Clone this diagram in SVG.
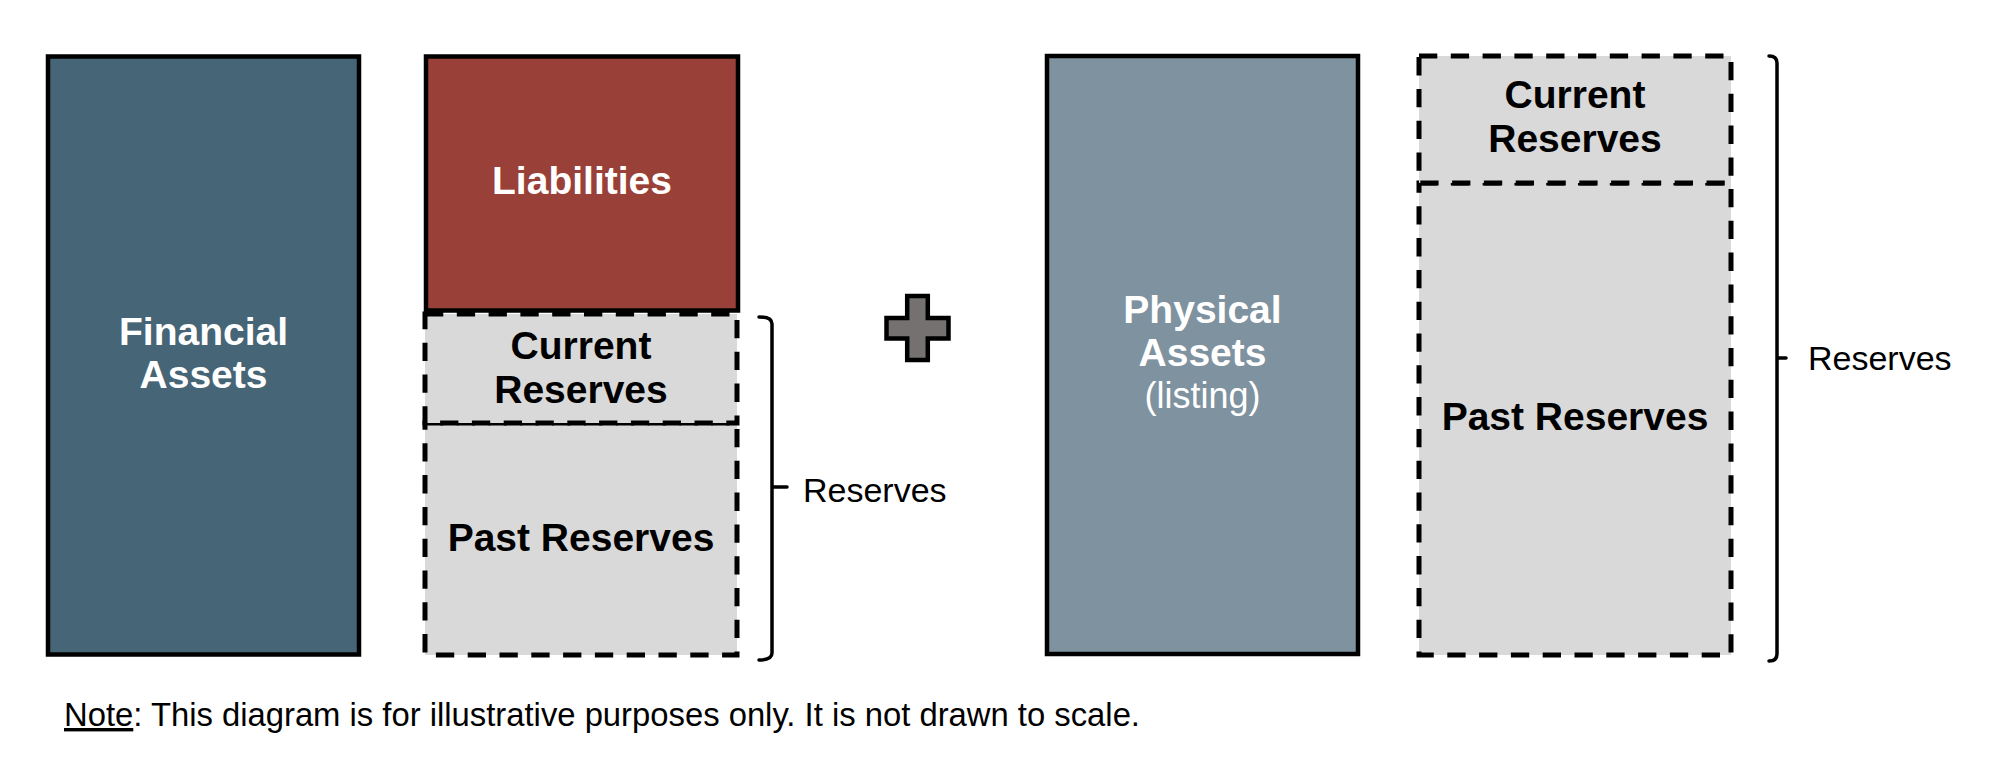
<svg xmlns="http://www.w3.org/2000/svg" width="2002" height="766" viewBox="0 0 2002 766">
  <style>
    .solid { stroke: #000; stroke-width: 4.5; }
    .dashed { fill: #d9d9d9; stroke: #000; stroke-width: 5; stroke-dasharray: 18.3 13.5; }
    .bold { font-family: "Liberation Sans", Arial, sans-serif; font-weight: bold; font-size: 39px; text-anchor: middle; }
    .white { fill: #ffffff; }
    .black { fill: #000000; }
    .reg { font-family: "Liberation Sans", Arial, sans-serif; font-size: 34px; fill: #000; }
    .brace { fill: none; stroke: #000; stroke-width: 3.5; stroke-linejoin: round; stroke-linecap: round; }
  </style>
  <rect width="2002" height="766" fill="#ffffff"/>

  <g id="financial-assets">
    <rect class="solid" x="48" y="56.5" width="311" height="598" fill="#466576"/>
    <text class="bold white" x="203.5" y="345">Financial</text>
    <text class="bold white" x="203.5" y="388">Assets</text>
  </g>

  <g id="liabilities">
    <rect class="solid" x="426" y="56.5" width="312" height="254" fill="#994038"/>
    <text class="bold white" x="582" y="194">Liabilities</text>
  </g>

  <g id="past-reserves-left">
    <rect class="dashed" x="425" y="423" width="312" height="232"/>
    <text class="bold black" x="581" y="551">Past Reserves</text>
  </g>

  <g id="current-reserves-left">
    <rect class="dashed" x="425" y="314" width="312" height="109"/>
    <text class="bold black" x="581" y="358.7">Current</text>
    <text class="bold black" x="581" y="402.7">Reserves</text>
  </g>

  <g id="plus">
    <polygon points="907.2,296 927.8,296 927.8,318 948.5,318 948.5,338.5 927.8,338.5 927.8,360 907.2,360 907.2,338.5 886.5,338.5 886.5,318 907.2,318" fill="#767171" stroke="#000" stroke-width="4.5" stroke-linejoin="miter"/>
  </g>

  <g id="physical-assets">
    <rect class="solid" x="1047" y="56" width="311" height="598" fill="#7f929f"/>
    <text class="bold white" x="1202.5" y="322.7">Physical</text>
    <text class="bold white" x="1202.5" y="366">Assets</text>
    <text x="1202.5" y="408" fill="#ffffff" font-family="Liberation Sans, Arial, sans-serif" font-size="36" text-anchor="middle">(listing)</text>
  </g>

  <g id="past-reserves-right">
    <rect class="dashed" x="1419" y="183" width="312" height="472"/>
    <text class="bold black" x="1575" y="430">Past Reserves</text>
  </g>

  <g id="current-reserves-right">
    <rect class="dashed" x="1419" y="56" width="312" height="127"/>
    <text class="bold black" x="1575" y="107.7">Current</text>
    <text class="bold black" x="1575" y="151.7">Reserves</text>
  </g>

  <g id="connectors">
    <path class="brace" d="M759,317 Q772,317 772,324 L772,653 Q772,660 759,660 M772,487 L787,487"/>
    <path class="brace" d="M1769,56 Q1777,56 1777,63 L1777,654 Q1777,661 1769,661 M1777,358 L1786,358"/>
  </g>

  <g id="reserves-label-left">
    <text class="reg" x="803" y="502">Reserves</text>
  </g>
  <g id="reserves-label-right">
    <text class="reg" x="1808" y="370">Reserves</text>
  </g>

  <g id="note">
    <text class="reg" x="64" y="726" textLength="1076" lengthAdjust="spacingAndGlyphs"><tspan text-decoration="underline">Note</tspan>: This diagram is for illustrative purposes only. It is not drawn to scale.</text>
  </g>
</svg>
